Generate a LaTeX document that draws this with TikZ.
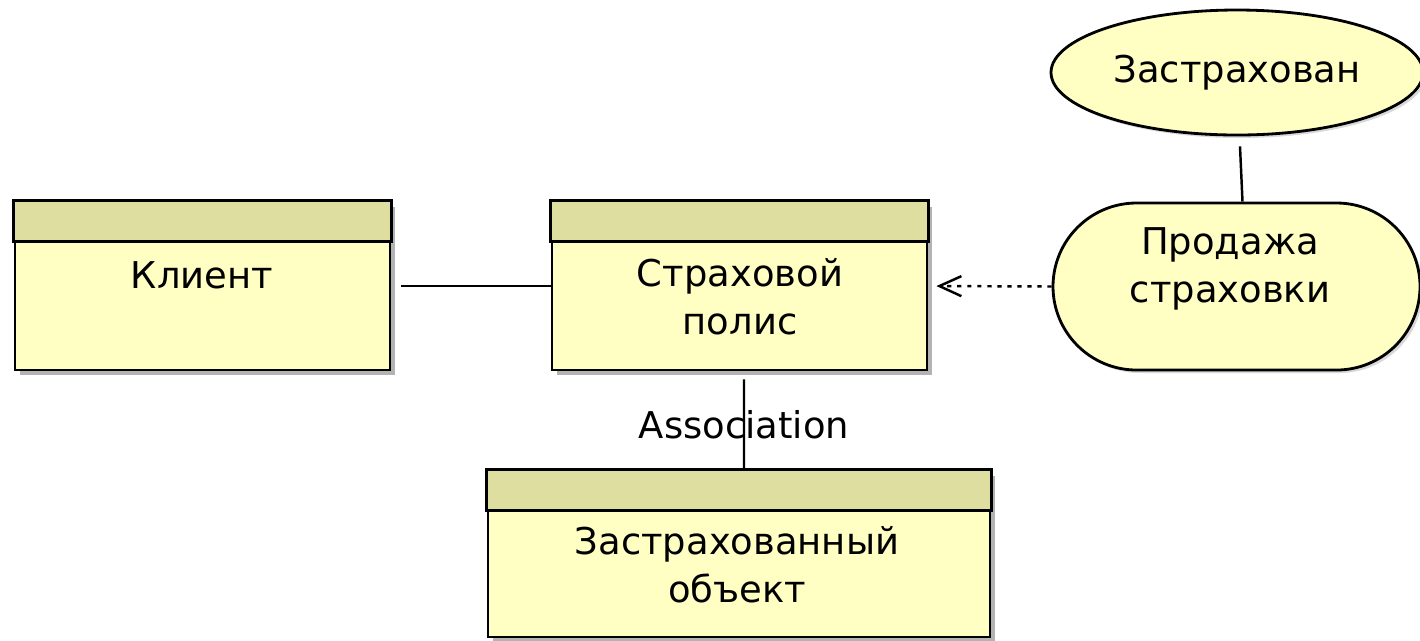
\documentclass[tikz,border=0pt]{standalone}
\usepackage{fontspec}
\setmainfont{DejaVu Sans}
\usetikzlibrary{arrows.meta, calc, shapes.geometric, shapes.misc, shadows, positioning}

\definecolor{classbody}{RGB}{255,255,196}
\definecolor{classhead}{RGB}{222,222,160}

\begin{document}
\begin{tikzpicture}[>=Latex,
    txt/.style={font=\fontsize{10.5}{13.4}\selectfont, align=center, inner sep=0pt},
    classbox/.style={draw, line width=0.8pt, fill=classbody, inner sep=0pt,
        minimum width=3.75cm, minimum height=1.68cm,
        drop shadow={shadow xshift=0.05cm, shadow yshift=-0.05cm, opacity=0.6}},
    usecase/.style={draw, line width=0.8pt, fill=classbody, txt,
        drop shadow={shadow xshift=0.03cm, shadow yshift=-0.03cm, opacity=0.3}},
    conn/.style={line width=0.7pt}]
        % 定義
        \def\Hh{0.41cm} % ヘッダの高さ

        \useasboundingbox (0,0) rectangle (14.2,-6.4);

        % クラス
        \node[classbox] (client) at (2.025,-2.86) {};
        \node[classbox] (policy) at (7.395,-2.86) {};
        \node[classbox, minimum width=5.02cm, minimum height=1.66cm] (object) at (7.39,-5.54) {};
        \foreach \c in {client, policy, object}
            \draw[line width=0.8pt, fill=classhead] (\c.north west) rectangle ([yshift=-\Hh]\c.north east);

        % 名前 (複数行は最終行のベースライン)
        \node[txt, anchor=base] (clientname) at (2.02,-2.88) {Клиент};
        \node[txt, anchor=base] (policyname) at (7.40,-3.34) {Страховой\\полис};
        \node[txt, anchor=base] (objectname) at (7.37,-6.02) {Застрахованный\\объект};

        % ユースケース
        \node[usecase, ellipse, minimum width=3.72cm, minimum height=1.25cm] (insured) at (12.37,-0.725) {Застрахован};
        \node[usecase, rounded rectangle, minimum width=3.67cm, minimum height=1.67cm] (sale) at (12.365,-2.865) {};
        \node[txt, anchor=base] (salename) at (12.30,-3.02) {Продажа\\страховки};

        % 関連
        \draw[conn, shorten <=0.1cm] (client.east) -- (policy.west);
        \draw[conn, dash pattern=on 1.2pt off 1.65pt, shorten >=0.08cm,
            -{Straight Barb[length=2.2mm, width=2mm]}] (sale.west) -- (policy.east);
        \draw[conn] ([xshift=0.03cm, yshift=-0.1cm]insured.south) -- ([xshift=0.06cm]sale.north);
        \draw[conn] ([xshift=0.045cm, yshift=-0.08cm]policy.south)
            -- node[txt] (assoc) {Association} ([xshift=0.05cm]object.north);
\end{tikzpicture}
\end{document}
